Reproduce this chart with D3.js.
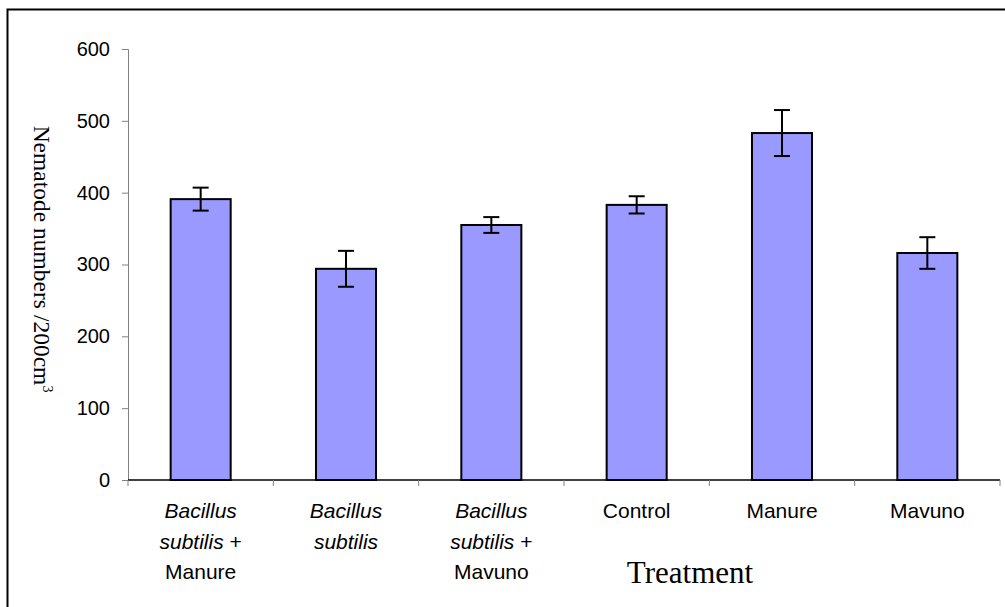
<!DOCTYPE html>
<html>
<head>
<meta charset="utf-8">
<script src="https://cdn.jsdelivr.net/npm/d3@7"></script>
<style>
  body { margin: 0; background: #fff; }
  svg { display: block; }
</style>
</head>
<body>
<div id="chart"></div>
<script>
// data
var treatments = ["Bacillus subtilis + Manure", "Bacillus subtilis", "Bacillus subtilis + Mavuno", "Control", "Manure", "Mavuno"];
var means = [391, 294, 355, 383, 483, 316];
var errors = [16, 25, 11, 12, 32, 22];
var yTicks = [0, 100, 200, 300, 400, 500, 600];

// label lines: [text, italic?] parts per line
var labelLines = [
  [[["Bacillus", true]], [["subtilis", true], [" +", false]], [["Manure", false]]],
  [[["Bacillus", true]], [["subtilis", true]]],
  [[["Bacillus", true]], [["subtilis", true], [" +", false]], [["Mavuno", false]]],
  [[["Control", false]]],
  [[["Manure", false]]],
  [[["Mavuno", false]]]
];

var W = 1005, H = 607;
var margin = { left: 128, top: 49, right: 5, bottom: 127 };

var svg = d3.select("#chart")
  .append("svg")
  .attr("width", W)
  .attr("height", H);

// outer frame (runs off the right/bottom edge)
svg.append("rect")
  .attr("x", 7.5)
  .attr("y", 9.5)
  .attr("width", W)
  .attr("height", H)
  .style("fill", "none")
  .style("stroke", "#000")
  .style("stroke-width", 2);

var x = d3.scaleBand()
  .domain(treatments)
  .range([margin.left, W - margin.right])
  .paddingInner(0.587)
  .paddingOuter(0.2935);

var y = d3.scaleLinear()
  .domain([0, 600])
  .range([H - margin.bottom, margin.top]);

// y axis (grey)
var yAxis = svg.append("g")
  .attr("transform", "translate(" + margin.left + ",0)")
  .call(d3.axisLeft(y).tickValues(yTicks).tickSize(6).tickPadding(12));
yAxis.selectAll("path, line").style("stroke", "#808080");
yAxis.selectAll("text")
  .style("font-family", "Liberation Sans, Arial, sans-serif")
  .style("font-size", "20px")
  .style("fill", "#000");

// bars
svg.selectAll(".bar")
  .data(treatments)
  .enter().append("rect")
  .attr("class", "bar")
  .attr("x", d => x(d))
  .attr("width", x.bandwidth())
  .attr("y", (d, i) => y(means[i]))
  .attr("height", (d, i) => y(0) - y(means[i]))
  .style("fill", "#9999ff")
  .style("stroke", "#000")
  .style("stroke-width", 2);

// error bars
var eb = svg.selectAll(".err")
  .data(treatments)
  .enter().append("g")
  .attr("class", "err")
  .attr("transform", d => "translate(" + (x(d) + x.bandwidth() / 2) + ",0)")
  .style("stroke", "#000")
  .style("stroke-width", 2);
eb.append("line")
  .attr("y1", (d, i) => y(means[i] + errors[i]))
  .attr("y2", (d, i) => y(means[i] - errors[i]));
eb.append("line")
  .attr("x1", -8).attr("x2", 8)
  .attr("y1", (d, i) => y(means[i] + errors[i]))
  .attr("y2", (d, i) => y(means[i] + errors[i]));
eb.append("line")
  .attr("x1", -8).attr("x2", 8)
  .attr("y1", (d, i) => y(means[i] - errors[i]))
  .attr("y2", (d, i) => y(means[i] - errors[i]));

// x axis: category boundaries as ticks
var step = x.step();
var xAxis = svg.append("g").attr("class", "xaxis");
xAxis.append("line")
  .attr("x1", margin.left).attr("x2", W - margin.right)
  .attr("y1", y(0)).attr("y2", y(0))
  .style("stroke", "#000")
  .style("stroke-width", 1.5);
xAxis.selectAll(".xt")
  .data(d3.range(treatments.length + 1))
  .enter().append("line")
  .attr("x1", i => margin.left + i * step)
  .attr("x2", i => margin.left + i * step)
  .attr("y1", y(0)).attr("y2", y(0) + 6)
  .style("stroke", "#808080");

// category labels
var lab = svg.selectAll(".xlab")
  .data(treatments)
  .enter().append("text")
  .attr("class", "xlab")
  .attr("text-anchor", "middle")
  .style("font-family", "Liberation Sans, Arial, sans-serif")
  .style("font-size", "21px");
lab.each(function (d, i) {
  var t = d3.select(this);
  var cx = x(d) + x.bandwidth() / 2;
  labelLines[i].forEach(function (line, li) {
    line.forEach(function (part, pi) {
      var ts = t.append("tspan").text(part[0])
        .style("font-style", part[1] ? "italic" : "normal");
      if (pi === 0) ts.attr("x", cx).attr("y", 518 + li * 30.5);
    });
  });
});

// axis titles
svg.append("text")
  .attr("x", 690)
  .attr("y", 583)
  .attr("text-anchor", "middle")
  .style("font-family", "Liberation Serif, Times New Roman, serif")
  .style("font-size", "31px")
  .text("Treatment");

var yt = svg.append("text")
  .attr("transform", "translate(34,259) rotate(90)")
  .attr("text-anchor", "middle")
  .style("font-family", "Liberation Serif, Times New Roman, serif")
  .style("font-size", "23.5px");
yt.append("tspan").text("Nematode numbers /200cm");
yt.append("tspan").text("3").attr("dy", -9).style("font-size", "14px");
</script>
</body>
</html>
